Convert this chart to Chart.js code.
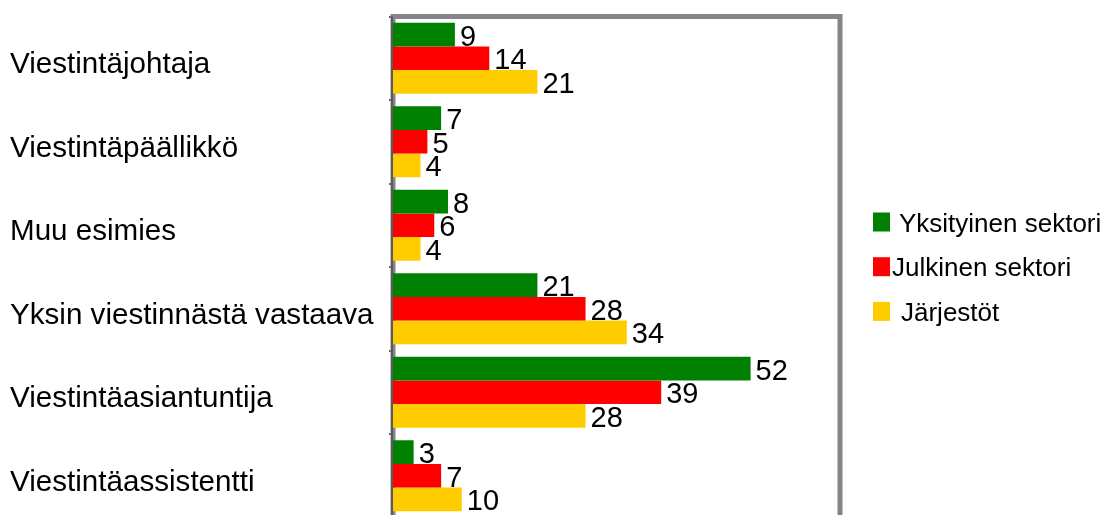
<!DOCTYPE html>
<html>
<head>
<meta charset="utf-8">
<script src="https://cdn.jsdelivr.net/npm/chart.js@4.4.1/dist/chart.umd.min.js"></script>
<style>
  html, body { margin: 0; padding: 0; background: #fff; overflow: hidden; }
  #wrap { width: 1104px; height: 530px; position: relative; }
</style>
</head>
<body>
<div id="wrap"><canvas id="myChart"></canvas></div>
<script>
  var categories = ['Viestintäjohtaja', 'Viestintäpäällikkö', 'Muu esimies',
    'Yksin viestinnästä vastaava', 'Viestintäasiantuntija', 'Viestintäassistentti'];
  var yksityinen = [9, 7, 8, 21, 52, 3];
  var julkinen = [14, 5, 6, 28, 39, 7];
  var jarjestot = [21, 4, 4, 34, 28, 10];

  var FONT = "'Liberation Sans', Arial, sans-serif";

  // grey frame round the plot area
  var framePlugin = {
    id: 'frame',
    beforeDatasetsDraw: function (chart) {
      var a = chart.chartArea, c = chart.ctx;
      c.save();
      c.strokeStyle = '#858585';
      c.lineWidth = 5;
      c.beginPath();
      c.moveTo(a.left, a.bottom + 10);
      c.lineTo(a.left, a.top);
      c.lineTo(a.right, a.top);
      c.lineTo(a.right, a.bottom + 10);
      c.stroke();
      c.strokeStyle = '#5a5a5a';
      c.lineWidth = 2;
      c.beginPath();
      c.moveTo(a.left - 1, a.top);
      c.lineTo(a.left - 1, a.bottom + 10);
      c.stroke();
      c.restore();
    }
  };

  // value written just right of each bar
  var valuePlugin = {
    id: 'values',
    afterDatasetsDraw: function (chart) {
      var c = chart.ctx;
      c.save();
      c.font = '29px ' + FONT;
      c.fillStyle = '#000';
      c.textAlign = 'left';
      c.textBaseline = 'alphabetic';
      chart.data.datasets.forEach(function (ds, i) {
        chart.getDatasetMeta(i).data.forEach(function (bar, j) {
          c.fillText(ds.data[j], bar.x + 5, bar.y + 11);
        });
      });
      c.restore();
    }
  };

  // legend on the right
  var legendPlugin = {
    id: 'sideLegend',
    afterDraw: function (chart) {
      var c = chart.ctx;
      var gaps = [9, 2, 11];
      c.save();
      c.font = '26px ' + FONT;
      c.textBaseline = 'alphabetic';
      c.fillStyle = '#000';
      chart.data.datasets.forEach(function (ds, i) {
        var cy = 222 + i * 44.7;
        c.fillStyle = ds.backgroundColor;
        c.fillRect(873, cy - 9.5, 17, 19);
        c.fillStyle = '#000';
        c.fillText(ds.label, 890 + gaps[i], cy + 9.5);
      });
      c.restore();
    }
  };

  var ctx = document.getElementById('myChart').getContext('2d');
  var myChart = new Chart(ctx, {
    type: 'bar',
    data: {
      labels: categories,
      datasets: [
        { label: 'Yksityinen sektori', data: yksityinen, backgroundColor: '#008000' },
        { label: 'Julkinen sektori', data: julkinen, backgroundColor: '#ff0000' },
        { label: 'Järjestöt', data: jarjestot, backgroundColor: '#ffcc00' }
      ]
    },
    options: {
      indexAxis: 'y',
      responsive: true,
      maintainAspectRatio: false,
      animation: false,
      categoryPercentage: 0.85,
      barPercentage: 1.0,
      layout: { padding: { left: 10, top: 16.5, right: 264, bottom: 12.5 } },
      plugins: {
        legend: { display: false },
        tooltip: { enabled: false }
      },
      scales: {
        x: {
          display: false,
          min: 0,
          max: 65
        },
        y: {
          afterFit: function (scale) {
            scale.width = 383;
            scale.paddingTop = 0;
            scale.paddingBottom = 0;
          },
          grid: {
            display: true,
            drawOnChartArea: false,
            drawTicks: true,
            tickLength: 4,
            color: '#606060',
            lineWidth: 2,
            offset: true
          },
          border: { display: false },
          ticks: {
            crossAlign: 'far',
            labelOffset: 7,
            color: '#000',
            font: { family: FONT, size: 29.6 }
          }
        }
      }
    },
    plugins: [framePlugin, valuePlugin, legendPlugin]
  });
</script>
</body>
</html>
